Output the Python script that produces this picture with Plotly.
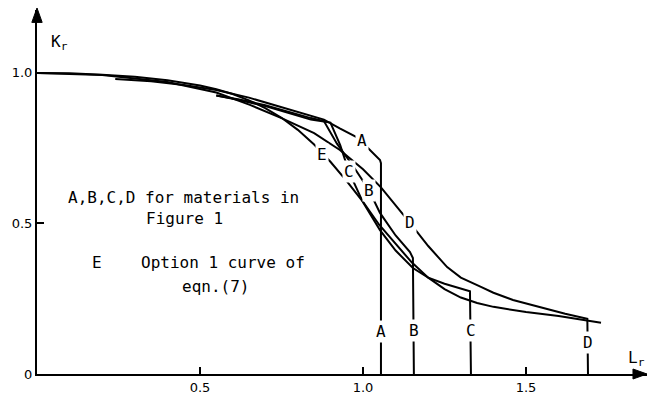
import plotly.graph_objects as go

# ---- data ----
E_L  = [0.0, 0.1, 0.2, 0.3, 0.4, 0.5, 0.55, 0.6, 0.65, 0.7, 0.75, 0.8, 0.85, 0.9, 0.95, 1.0,
        1.05, 1.1, 1.15, 1.2, 1.25, 1.3, 1.35, 1.4, 1.5, 1.6, 1.73]
E_Kr = [1.0, 0.999, 0.994, 0.987, 0.976, 0.958, 0.946, 0.930, 0.909, 0.883, 0.851, 0.811, 0.762,
        0.705, 0.641, 0.572, 0.495, 0.433, 0.370, 0.320, 0.282, 0.254, 0.236, 0.223, 0.206, 0.193, 0.170]

A_L  = [0.24, 0.35, 0.45, 0.55, 0.65, 0.745, 0.82, 0.88, 0.93, 0.98, 1.012, 1.052, 1.055, 1.055]
A_Kr = [0.98, 0.972, 0.96, 0.943, 0.918, 0.887, 0.862, 0.845, 0.815, 0.787, 0.754, 0.711, 0.70, 0.0]

B_L  = [0.55, 0.62, 0.7, 0.78, 0.84, 0.88, 0.92, 0.97, 1.018, 1.052, 1.1, 1.144, 1.153, 1.156]
B_Kr = [0.925, 0.912, 0.893, 0.868, 0.85, 0.84, 0.765, 0.69, 0.611, 0.535, 0.46, 0.405, 0.385, 0.0]

C_L  = [0.55, 0.62, 0.7, 0.78, 0.84, 0.9, 0.93, 0.957, 1.0, 1.052, 1.1, 1.153, 1.2, 1.25, 1.3, 1.328, 1.331]
C_Kr = [0.925, 0.91, 0.89, 0.865, 0.845, 0.835, 0.76, 0.671, 0.57, 0.478, 0.41, 0.352, 0.32, 0.30, 0.283, 0.275, 0.0]

D_L  = [0.0, 0.2, 0.4, 0.55, 0.653, 0.75, 0.85, 0.929, 1.0, 1.055, 1.144, 1.2, 1.258, 1.3, 1.36,
        1.4, 1.46, 1.55, 1.62, 1.688, 1.69]
D_Kr = [1.0, 0.993, 0.97, 0.935, 0.894, 0.85, 0.8, 0.744, 0.68, 0.62, 0.502, 0.425, 0.355, 0.32, 0.29,
        0.27, 0.246, 0.22, 0.2, 0.183, 0.0]

x_ticks = [0.5, 1.0, 1.5]
x_tick_text = ["0.5", "1.0", "1.5"]
y_ticks = [0.0, 0.5, 1.0]
y_tick_text = ["0", "0.5", "1.0"]

FONT = "DejaVu Sans Mono"
TICKFONT = "DejaVu Sans"

fig = go.Figure()
for L, K in [(E_L, E_Kr), (A_L, A_Kr), (B_L, B_Kr), (C_L, C_Kr), (D_L, D_Kr)]:
    fig.add_trace(go.Scatter(x=L, y=K, mode="lines",
                             line=dict(color="black", width=2),
                             hoverinfo="skip", showlegend=False))

def lab(x, y, t, size=16):
    fig.add_annotation(x=x, y=y, text=t, showarrow=False, xref="x", yref="y",
                       font=dict(family=FONT, size=size, color="black"),
                       bgcolor="white", borderpad=1)

# labels on curves
lab(0.997, 0.777, "A")
lab(1.018, 0.611, "B")
lab(0.957, 0.671, "C")
lab(1.144, 0.502, "D")
lab(0.874, 0.728, "E")
# labels on cut-off lines
lab(1.055, 0.140, "A")
lab(1.156, 0.145, "B")
lab(1.331, 0.145, "C")
lab(1.690, 0.106, "D")

# explanatory text
def txt(x, y, t):
    fig.add_annotation(x=x, y=y, text=t, showarrow=False, xref="x", yref="y",
                       font=dict(family=FONT, size=16, color="black"))

txt(0.448, 0.585, "A,B,C,D for materials in")
txt(0.452, 0.518, "Figure 1")
txt(0.184, 0.372, "E")
txt(0.571, 0.372, "Option 1 curve of")
txt(0.549, 0.292, "eqn.(7)")

# axis titles
fig.add_annotation(x=0.068, y=1.10, text="K<sub>r</sub>", showarrow=False, xref="x", yref="y",
                   font=dict(family=FONT, size=16, color="black"))
fig.add_annotation(x=1.0, y=0.05, text="L<sub>r</sub>", showarrow=False, xref="paper", yref="y",
                   xanchor="right", font=dict(family=FONT, size=16, color="black"))

# arrow heads (axis decorations)
fig.add_shape(type="path", xref="paper", yref="paper",
              path="M 0 1.0055 L -0.0085 0.966 L 0.0085 0.966 Z",
              fillcolor="black", line=dict(color="black", width=1))
fig.add_shape(type="path", xref="paper", yref="paper",
              path="M 1 0 L 0.977 0.0137 L 0.977 -0.0137 Z",
              fillcolor="black", line=dict(color="black", width=1))

fig.update_xaxes(range=[0, 1.871], showline=True, linewidth=2, linecolor="black",
                 ticks="inside", ticklen=7, tickwidth=1.5, tickcolor="black",
                 tickvals=x_ticks, ticktext=x_tick_text, showgrid=False, zeroline=False,
                 tickfont=dict(family=TICKFONT, size=13, color="black"))
fig.update_yaxes(range=[0, 1.209], showline=True, linewidth=2, linecolor="black",
                 ticks="inside", ticklen=7, tickwidth=1.5, tickcolor="black",
                 tickvals=y_ticks, ticktext=y_tick_text, showgrid=False, zeroline=False,
                 tickfont=dict(family=TICKFONT, size=13, color="black"))

fig.update_layout(width=647, height=398, margin=dict(l=37, r=0, t=10, b=24),
                  paper_bgcolor="white", plot_bgcolor="white", showlegend=False)

fig.write_html("out.html")
